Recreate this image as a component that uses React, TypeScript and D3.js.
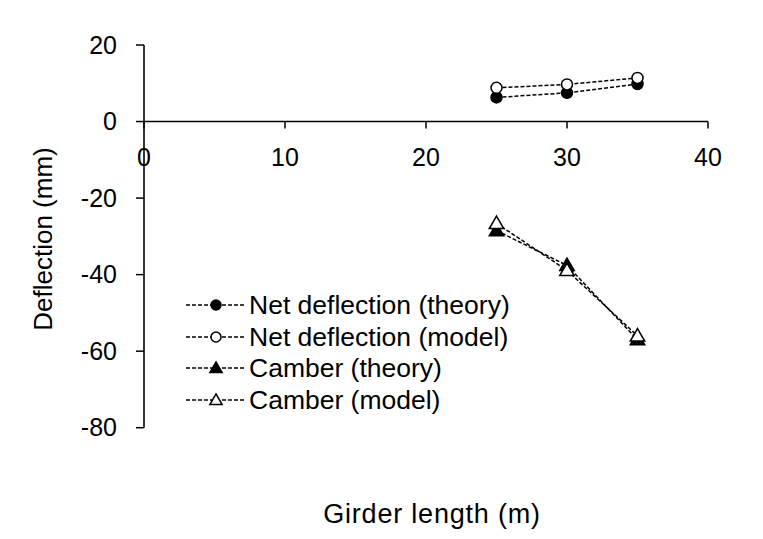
import React from "react";
import * as d3 from "d3";

const girderLength = [25, 30, 35];
const netTheory = [6.3, 7.5, 9.8];
const netModel = [8.8, 9.7, 11.4];
const camberTheory = [-28.5, -37.6, -57.0];
const camberModel = [-26.6, -38.9, -56.0];
const xTicks = [0, 10, 20, 30, 40];
const yTicks = [20, 0, -20, -40, -60, -80];

const seriesNames = [
  "Net deflection (theory)",
  "Net deflection (model)",
  "Camber (theory)",
  "Camber (model)",
];

const W = 763;
const H = 539;
const FONT = "'Liberation Sans', Arial, sans-serif";

export default function App() {
  const x = d3.scaleLinear().domain([0, 40]).range([144, 708]);
  const y = d3.scaleLinear().domain([-80, 20]).range([427.7, 45]);

  const series = [
    { vals: netTheory, marker: "circle", fill: "black" },
    { vals: netModel, marker: "circle", fill: "white" },
    { vals: camberTheory, marker: "triangle", fill: "black" },
    { vals: camberModel, marker: "triangle", fill: "white" },
  ];

  const line = d3
    .line<number>()
    .x((_, i) => x(girderLength[i]))
    .y((d) => y(d));

  const marker = (kind: string, fill: string, cx: number, cy: number, key: string, small = false) => {
    if (kind === "circle") {
      return (
        <circle key={key} cx={cx} cy={cy} r={small ? 5 : 5.5} fill={fill} stroke="black" strokeWidth={1.5} />
      );
    }
    const s = d3.symbol().type(d3.symbolTriangle).size(small ? 65 : 90);
    return (
      <path key={key} d={s() || ""} transform={`translate(${cx},${cy + 1})`} fill={fill} stroke="black" strokeWidth={1.5} />
    );
  };

  const legendX = 186;
  const legendY = [305, 337, 368, 400];

  return (
    <svg width={W} height={H} style={{ position: "absolute", left: 0, top: 0, background: "white" }} fontFamily={FONT}>
      <rect width={W} height={H} fill="white" />
      {/* y axis */}
      <line x1={x(0)} x2={x(0)} y1={y(20)} y2={y(-80)} stroke="black" strokeWidth={1.6} />
      {yTicks.map((t) => (
        <g key={"y" + t}>
          <line x1={x(0) - 8} x2={x(0)} y1={y(t)} y2={y(t)} stroke="black" strokeWidth={1.5} />
          <text x={x(0) - 27} y={y(t)} dy="0.35em" textAnchor="end" fontSize={25} fill="black">
            {t}
          </text>
        </g>
      ))}
      {/* x axis */}
      <line x1={x(0)} x2={x(40)} y1={y(0)} y2={y(0)} stroke="black" strokeWidth={1.6} />
      {xTicks.map((t) => (
        <g key={"x" + t}>
          <line x1={x(t)} x2={x(t)} y1={y(0)} y2={y(0) + 7} stroke="black" strokeWidth={1.5} />
          <text x={x(t)} y={y(0) + 44} textAnchor="middle" fontSize={25} fill="black">
            {t}
          </text>
        </g>
      ))}
      {/* series */}
      {series.map((s, si) => (
        <g key={"s" + si}>
          <path d={line(s.vals) || ""} fill="none" stroke="black" strokeWidth={1.5} strokeDasharray="4,2" />
          {s.vals.map((v, i) => marker(s.marker, s.fill, x(girderLength[i]), y(v), `m${si}-${i}`))}
        </g>
      ))}
      {/* legend */}
      {series.map((s, si) => (
        <g key={"l" + si}>
          <line x1={legendX} x2={legendX + 60} y1={legendY[si]} y2={legendY[si]} stroke="black" strokeWidth={1.5} strokeDasharray="4,2" />
          {marker(s.marker, s.fill, legendX + 30, legendY[si], `lm${si}`, true)}
          <text x={legendX + 63} y={legendY[si]} dy="0.35em" fontSize={26.5} fill="black">
            {seriesNames[si]}
          </text>
        </g>
      ))}
      {/* axis titles */}
      <text x={432} y={523} textAnchor="middle" fontSize={27} fill="black" letterSpacing={0.8}>
        Girder length (m)
      </text>
      <text transform={`translate(52,239) rotate(-90)`} textAnchor="middle" fontSize={26} fill="black">
        Deflection (mm)
      </text>
    </svg>
  );
}
